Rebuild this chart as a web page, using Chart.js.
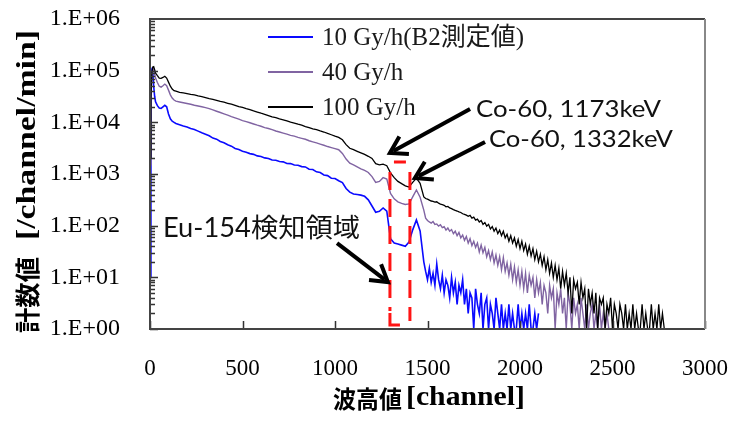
<!DOCTYPE html>
<html>
<head>
<meta charset="utf-8">
<script src="https://cdn.jsdelivr.net/npm/chart.js@4.4.1/dist/chart.umd.min.js"></script>
<style>
  html, body { margin: 0; padding: 0; background: #fff; }
</style>
</head>
<body>
<canvas id="chart" width="741" height="425"></canvas>
<script>
// channel positions shared by the three spectra (finer in the noisy tail)
const channels = [0, 5, 10, 15, 20, 25, 30, 40, 50, 60, 70, 80, 90, 100, 110, 120, 130, 140,
  160, 180, 200, 220, 240, 260, 280, 300, 320, 340, 360, 380, 400, 420, 440, 460, 480, 500,
  520, 540, 560, 580, 600, 620, 640, 660, 680, 700, 720, 740, 760, 780, 800, 820, 840, 860, 880, 900,
  920, 940, 960, 980, 1000, 1020, 1040, 1060, 1080, 1100, 1120, 1140, 1160, 1180, 1200, 1220, 1240, 1260, 1280, 1300,
  1320, 1340, 1360, 1380, 1400, 1420, 1440, 1460,
  1480, 1490, 1500, 1510, 1520, 1530, 1540, 1550, 1560, 1570, 1580, 1590, 1600, 1610, 1620, 1630, 1640, 1650, 1660, 1670,
  1680, 1690, 1700, 1710, 1720, 1730, 1740, 1750, 1760, 1770, 1780, 1790, 1800, 1810, 1820, 1830, 1840, 1850, 1860, 1870,
  1880, 1890, 1900, 1910, 1920, 1930, 1940, 1950, 1960, 1970, 1980, 1990, 2000, 2010, 2020, 2030, 2040, 2050, 2060, 2070,
  2080, 2090, 2100, 2110, 2120, 2130, 2140, 2150, 2160, 2170, 2180, 2190, 2200, 2210, 2220, 2230, 2240, 2250, 2260, 2270,
  2280, 2290, 2300, 2310, 2320, 2330, 2340, 2350, 2360, 2370, 2380, 2390, 2400, 2410, 2420, 2430, 2440, 2450, 2460, 2470,
  2480, 2490, 2500, 2510, 2520, 2530, 2540, 2550, 2560, 2570, 2580, 2590, 2600, 2610, 2620, 2630, 2640, 2650, 2660, 2670,
  2680, 2690, 2700, 2710, 2720, 2730, 2740, 2750, 2760, 2770, 2780];

// counts [/channel/min]
const dose10 = [10, 50000, 100000, 89000, 50000, 32000, 25000, 21000, 19000, 18600, 20000, 21400, 20000, 14500, 11700, 10500, 10000, 9500,
  9000, 8500, 8130, 7600, 7250, 6760, 6300, 5900,
  5500, 4950, 4720, 4260, 4020, 3680, 3460, 3120, 2980, 2760,
  2630, 2480, 2400, 2240, 2180, 2050, 1990, 1860, 1840, 1740,
  1720, 1600, 1590, 1490, 1480, 1390, 1370, 1240, 1220, 1100,
  1070, 960, 930, 830, 820, 740, 680, 525, 445, 410,
  400, 390, 370, 316, 240, 182, 190, 220, 190, 56,
  46, 44, 42, 40, 48, 83, 129, 79,
  20, 13, 9, 15, 8, 12, 7, 18, 9, 6, 11, 5, 9, 7, 4, 10, 5, 8, 3, 7,
  5, 9, 3, 6, 2, 5, 4, 1, 6, 3, 2, 5, 1, 3, 4, 1, 3, 2, 1, 4,
  2, 1, 3, 1, 2, 1, 3, 1, 2, 1, 1, 3, 1, 2, 1, 2, 1, 3, 1, 1,
  2, 1, 2];

const dose40 = [1500, 25000, 80000, 110000, 107000, 89000, 72000, 59000, 50000, 48000, 51000, 55000, 51000, 42000, 34000, 29500, 27000, 25700,
  24800, 24000, 23200, 22400, 21400, 20700, 20000, 19300,
  18400, 17400, 16400, 15500, 14600, 13800, 12900, 12200, 11500, 10800,
  10300, 9800, 9300, 8800, 8400, 7900, 7600, 7200, 6800, 6500,
  6200, 5900, 5600, 5400, 5100, 4900, 4700, 4400, 4200, 4000,
  3800, 3600, 3400, 3250, 3100, 2950, 2500, 1950, 1620, 1500,
  1380, 1260, 1170, 1070, 890, 690, 720, 850, 800, 420,
  330, 290, 270, 257, 263, 360, 490, 355,
  200, 140, 126, 118, 112, 120, 106, 108, 98, 104, 92, 96, 82, 90, 78, 84, 70, 78, 64, 74,
  58, 66, 52, 62, 46, 56, 41, 50, 38, 46, 31, 42, 30, 38, 25, 33, 22, 31, 19, 27,
  17, 25, 14, 24, 13, 19, 11, 18, 9, 16, 8, 14, 7, 13, 6, 12, 5, 11, 7, 10,
  4, 9, 5, 8, 3, 7, 5, 2, 7, 4, 6, 1, 5, 3, 6, 2, 4, 1, 5, 3,
  1, 4, 2, 3, 1, 4, 2, 1, 3, 1, 2, 3, 1, 2, 1, 3, 1, 2, 1, 2,
  1];

const dose100 = [2000, 30000, 90000, 118000, 120000, 105000, 90000, 80000, 72000, 71000, 74000, 78000, 72000, 60000, 50000, 44000, 41000, 40000,
  38000, 37000, 36000, 34700, 33900, 32400, 31300, 30200,
  28800, 27900, 26600, 25400, 24500, 23400, 22400, 21400, 20200, 19500,
  18400, 17600, 16600, 15800, 15000, 14300, 13500, 12700, 12300, 11700,
  11200, 10700, 10100, 9700, 9200, 8800, 8300, 7900, 7500, 7200,
  6800, 6500, 6100, 5750, 5400, 5100, 4600, 3700, 3150, 2950,
  2750, 2570, 2400, 2200, 2000, 1580, 1500, 1550, 1450, 1050,
  850, 720, 650, 590, 560, 690, 830, 660,
  360, 335, 325, 312, 300, 296, 285, 290, 272, 262, 255, 248, 232, 236, 220, 214, 205, 198, 192, 185,
  180, 170, 166, 160, 152, 158, 140, 146, 128, 134, 118, 126, 106, 115, 98, 106, 86, 96, 78, 90,
  70, 82, 64, 78, 58, 68, 50, 64, 46, 58, 40, 54, 36, 50, 33, 44, 28, 40, 26, 36,
  22, 32, 20, 28, 17, 25, 14, 22, 12, 19, 10, 17, 9, 15, 6, 13, 7, 12, 5, 10,
  2, 9, 6, 8, 3, 8, 4, 6, 1, 6, 3, 5, 2, 5, 1, 4, 3, 4, 1, 3,
  2, 4, 1, 3, 2, 1, 3, 2, 1, 3, 1, 2, 1, 3, 1, 2, 1, 1, 3, 1,
  2, 1, 1, 3, 1, 2, 1, 3, 1, 2, 1];

const seriesLabels = ["10 Gy/h(B2測定値)", "40 Gy/h", "100 Gy/h"];
const seriesColors = ["#0a0aff", "#8064a2", "#000000"];
const xTicks = [0, 500, 1000, 1500, 2000, 2500, 3000];
const yTicks = [1, 10, 100, 1000, 10000, 100000, 1000000];

// annotations in data units (channel, counts)
const euBox = { x0: 1297, x1: 1405, y0: 1.19, y1: 1710 };
const arrows = [
  { from: [1730, 18100], to: [1297, 2550] },
  { from: [1811, 4160], to: [1432, 838] },
  { from: [1011, 46], to: [1286, 8.1] }
];
const notes = [
  { text: "Co-60, 1173keV", x: 1762, y: 12700, size: 23, width: 185 },
  { text: "Co-60, 1332keV", x: 1832, y: 3330, size: 23, width: 184 },
  { text: "Eu-154検知領域", x: 70, y: 60, size: 26, width: 197 }
];

function toPoints(values) {
  return values.map((v, i) => ({ x: channels[i], y: v }));
}

// draw text stretched to a given width
function fitText(ctx, text, x, y, w) {
  const m = ctx.measureText(text).width;
  ctx.save();
  ctx.translate(x, y);
  ctx.scale(w / m, 1);
  ctx.fillText(text, 0, 0);
  ctx.restore();
}

function drawArrow(ctx, x0, y0, x1, y1) {
  const ang = Math.atan2(y1 - y0, x1 - x0);
  const head = 19, spread = 0.55;
  ctx.beginPath();
  ctx.moveTo(x0, y0);
  ctx.lineTo(x1 - 4 * Math.cos(ang), y1 - 4 * Math.sin(ang));
  ctx.stroke();
  ctx.beginPath();
  ctx.moveTo(x1 - head * Math.cos(ang - spread), y1 - head * Math.sin(ang - spread));
  ctx.lineTo(x1, y1);
  ctx.lineTo(x1 - head * Math.cos(ang + spread), y1 - head * Math.sin(ang + spread));
  ctx.stroke();
}

const decorations = {
  id: "decorations",
  afterDatasetsDraw(chart) {
    const { ctx, chartArea: a, scales: { x, y } } = chart;
    ctx.save();

    // inward tick marks
    ctx.strokeStyle = "#333";
    ctx.lineWidth = 1.5;
    ctx.beginPath();
    for (let d = 0; d < yTicks.length - 1; d++) {
      for (let m = 1; m <= 9; m++) {
        const py = Math.round(y.getPixelForValue(yTicks[d] * m)) + 0.5;
        const len = m === 1 ? 8 : 5;
        ctx.moveTo(a.left, py);
        ctx.lineTo(a.left + len, py);
      }
    }
    xTicks.forEach(t => {
      const px = Math.round(x.getPixelForValue(t)) + 0.5;
      ctx.moveTo(px, a.bottom);
      ctx.lineTo(px, a.bottom - 8);
    });
    ctx.stroke();

    // plot frame
    ctx.lineWidth = 2;
    ctx.strokeStyle = "#444";
    ctx.beginPath();
    ctx.moveTo(a.right, a.top);
    ctx.lineTo(a.left, a.top);
    ctx.lineTo(a.left, a.bottom);
    ctx.lineTo(a.right, a.bottom);
    ctx.stroke();
    ctx.strokeStyle = "#888";
    ctx.beginPath();
    ctx.moveTo(a.right, a.top);
    ctx.lineTo(a.right, a.bottom);
    ctx.stroke();

    // Eu-154 window, red dashed
    const bl = x.getPixelForValue(euBox.x0), br = x.getPixelForValue(euBox.x1);
    const bt = y.getPixelForValue(euBox.y1), bb = y.getPixelForValue(euBox.y0);
    ctx.strokeStyle = "#ff1414";
    ctx.lineWidth = 3;
    ctx.setLineDash([]);
    ctx.beginPath();
    ctx.moveTo(bl + 4, bt); ctx.lineTo(br - 4, bt);
    ctx.moveTo(bl, bb - 12); ctx.lineTo(bl, bb); ctx.lineTo(bl + 10, bb);
    ctx.stroke();
    ctx.setLineDash([18, 9]);
    ctx.beginPath();
    ctx.moveTo(bl, bt + 10); ctx.lineTo(bl, bb - 14);
    ctx.moveTo(br, bt + 10); ctx.lineTo(br, bb - 4);
    ctx.stroke();
    ctx.setLineDash([]);

    // arrows
    ctx.strokeStyle = "#000";
    ctx.lineWidth = 4;
    ctx.lineJoin = "miter";
    arrows.forEach(ar => {
      drawArrow(ctx, x.getPixelForValue(ar.from[0]), y.getPixelForValue(ar.from[1]),
        x.getPixelForValue(ar.to[0]), y.getPixelForValue(ar.to[1]));
    });

    // notes
    ctx.fillStyle = "#111";
    ctx.textBaseline = "alphabetic";
    ctx.textAlign = "left";
    notes.forEach(n => {
      ctx.font = n.size + "px Lato, 'Noto Sans CJK JP'";
      fitText(ctx, n.text, x.getPixelForValue(n.x), y.getPixelForValue(n.y), n.width);
    });

    // legend
    ctx.font = "25px 'Liberation Serif', 'Noto Sans CJK JP'";
    seriesLabels.forEach((lab, i) => {
      const ly = a.top + 18 + i * 35;
      ctx.strokeStyle = seriesColors[i];
      ctx.lineWidth = 2;
      ctx.beginPath();
      ctx.moveTo(a.left + 118, ly);
      ctx.lineTo(a.left + 163, ly);
      ctx.stroke();
      ctx.fillStyle = "#1a1a1a";
      ctx.fillText(lab, a.left + 172, ly + 7.5);
    });

    // axis titles
    ctx.fillStyle = "#000";
    ctx.textBaseline = "middle";
    ctx.font = "bold 24px 'Noto Sans CJK JP'";
    fitText(ctx, "波高値", 333, 399, 69);
    ctx.font = "bold 27px 'Liberation Serif'";
    fitText(ctx, "[channel]", 406, 398, 119);

    ctx.translate(27, 0);
    ctx.rotate(-Math.PI / 2);
    ctx.font = "bold 25px 'Noto Sans CJK JP'";
    fitText(ctx, "計数値", -333, 0, 76);
    ctx.font = "bold 27px 'Liberation Serif'";
    fitText(ctx, "[/channel/min]", -240, 1, 210);

    ctx.restore();
  }
};

// keep the plot box fixed: drop the label overhang the scales ask for
function noOverhang(s) {
  s.paddingTop = 0; s.paddingBottom = 0; s.paddingLeft = 0; s.paddingRight = 0;
}

new Chart(document.getElementById("chart"), {
  type: "line",
  data: {
    datasets: [
      { label: seriesLabels[2], data: toPoints(dose100), borderColor: seriesColors[2], borderWidth: 1.3, order: 0 },
      { label: seriesLabels[1], data: toPoints(dose40), borderColor: seriesColors[1], borderWidth: 1.4, order: 1 },
      { label: seriesLabels[0], data: toPoints(dose10), borderColor: seriesColors[0], borderWidth: 1.6, order: 2 }
    ]
  },
  options: {
    responsive: false,
    animation: false,
    layout: { padding: { top: 19, right: 36, left: 0, bottom: 0 } },
    elements: { point: { radius: 0 }, line: { tension: 0 } },
    plugins: { legend: { display: false }, tooltip: { enabled: false } },
    scales: {
      x: {
        type: "linear",
        min: 0,
        max: 3000,
        afterBuildTicks: s => { s.ticks = xTicks.map(v => ({ value: v })); },
        afterFit: s => { s.height = 96; noOverhang(s); },
        grid: { display: false },
        border: { display: false },
        ticks: {
          color: "#000",
          font: { family: "'Liberation Serif'", size: 23 },
          padding: 18,
          maxRotation: 0,
          autoSkip: false,
          callback: v => String(v)
        }
      },
      y: {
        type: "logarithmic",
        min: 1,
        max: 1000000,
        afterBuildTicks: s => { s.ticks = yTicks.map(v => ({ value: v })); },
        afterFit: s => { s.width = 150; noOverhang(s); },
        grid: { display: false },
        border: { display: false },
        ticks: {
          color: "#000",
          font: { family: "'Liberation Serif'", size: 24 },
          padding: 22,
          autoSkip: false,
          callback: v => "1.E+" + String(Math.round(Math.log10(v))).padStart(2, "0")
        }
      }
    }
  },
  plugins: [decorations]
});
</script>
</body>
</html>
